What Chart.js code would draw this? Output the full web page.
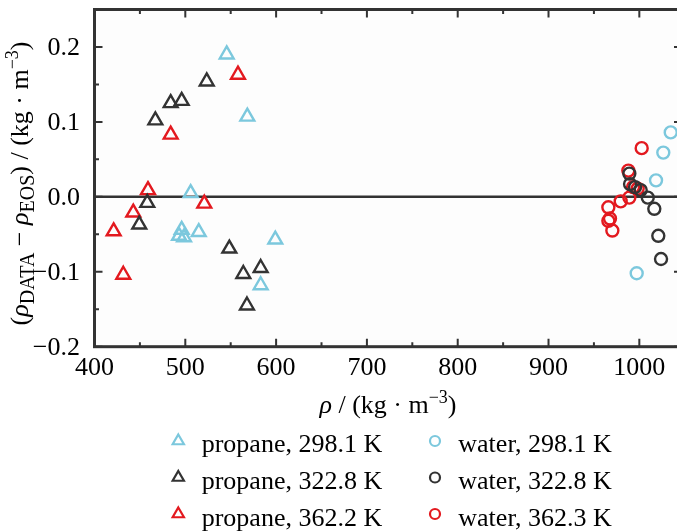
<!DOCTYPE html>
<html>
<head>
<meta charset="utf-8">
<script src="https://cdn.jsdelivr.net/npm/chart.js@4.4.1/dist/chart.umd.min.js"></script>
<style>
html, body { margin: 0; padding: 0; background: #fff; overflow: hidden; }
#wrap { width: 677px; height: 531px; overflow: hidden; position: relative; }
#mycanvas { display: block; }
</style>
</head>
<body>
<div id="wrap"><canvas id="mycanvas" width="684" height="531"></canvas></div>
<script>
// density rho (kg/m3) and deviation rho_DATA - rho_EOS (kg/m3)
var propane298Rho = [545.6, 568.3, 505.9, 496.0, 493.1, 498.6, 514.8, 599.1, 583.0];
var propane298Dev = [0.190, 0.107, 0.005, -0.044, -0.052, -0.054, -0.047, -0.057, -0.118];

var propane323Rho = [523.6, 483.9, 496.0, 467.0, 458.1, 449.3, 548.5, 563.9, 583.0, 567.9];
var propane323Dev = [0.154, 0.125, 0.128, 0.102, -0.008, -0.037, -0.069, -0.103, -0.095, -0.145];

var propane362Rho = [558.0, 483.9, 458.9, 442.7, 520.9, 421.1, 431.7];
var propane362Dev = [0.163, 0.083, 0.009, -0.021, -0.009, -0.046, -0.104];

var water298Rho = [1034.6, 1026.4, 1018.4, 997.1];
var water298Dev = [0.086, 0.059, 0.022, -0.102];

var water323Rho = [989.0, 989.8, 995.3, 1001.5, 1009.3, 1016.5, 1020.9, 1023.9];
var water323Dev = [0.031, 0.017, 0.013, 0.009, -0.001, -0.016, -0.052, -0.083];

var water362Rho = [1002.6, 987.9, 993.1, 998.2, 989.0, 979.5, 965.9, 967.7, 965.9, 970.3];
var water362Dev = [0.065, 0.035, 0.013, 0.011, -0.001, -0.006, -0.014, -0.029, -0.032, -0.045];

var seriesLabels = ['propane, 298.1 K', 'propane, 322.8 K', 'propane, 362.2 K',
                    'water, 298.1 K', 'water, 322.8 K', 'water, 362.3 K'];

var xTicks = [400, 450, 500, 550, 600, 650, 700, 750, 800, 850, 900, 950, 1000];
var yTicks = [-0.2, -0.15, -0.1, -0.05, 0, 0.05, 0.1, 0.15, 0.2];

var BLUE = '#7cc8dd', DARK = '#333333', RED = '#e3191f';
var FONT = 'Liberation Serif, Times New Roman, serif';

function pts(xs, ys) {
	var out = [];
	for (var i = 0; i < xs.length; i++) out.push({x: xs[i], y: ys[i]});
	return out;
}

function mk(label, data, color, style) {
	return {
		label: label,
		data: data,
		showLine: false,
		pointStyle: style,
		pointRadius: style == 'triangle' ? 8 : 6,
		pointBorderWidth: 2.4,
		pointBorderColor: color,
		pointBackgroundColor: 'rgba(0,0,0,0)',
		borderColor: color,
		backgroundColor: 'rgba(0,0,0,0)'
	};
}

function isMajor(v, step) {
	return Math.abs(v / step - Math.round(v / step)) < 1e-6;
}

function drawMarker(ctx, style, x, y, r) {
	ctx.beginPath();
	if (style == 'triangle') {
		ctx.moveTo(x, y - r);
		ctx.lineTo(x + r * Math.sin(2 * Math.PI / 3), y - r * Math.cos(2 * Math.PI / 3));
		ctx.lineTo(x + r * Math.sin(4 * Math.PI / 3), y - r * Math.cos(4 * Math.PI / 3));
		ctx.closePath();
	} else {
		ctx.arc(x, y, r, 0, Math.PI * 2);
	}
	ctx.stroke();
}

// a row of text pieces with sub/superscripts
function richText(ctx, parts, x, y, center) {
	var total = 0;
	parts.forEach(function(p) { ctx.font = p.f; total += ctx.measureText(p.t).width; });
	var cx = center ? x - total / 2 : x;
	parts.forEach(function(p) {
		ctx.font = p.f;
		ctx.fillText(p.t, cx, y + (p.dy || 0));
		cx += ctx.measureText(p.t).width;
	});
}

var frame = {
	id: 'frame',
	beforeDraw: function(chart) {
		var ctx = chart.ctx, a = chart.chartArea;
		ctx.save();
		ctx.fillStyle = '#fdfdfd';
		ctx.fillRect(a.left, a.top, a.right - a.left, a.bottom - a.top);
		ctx.restore();
	},
	beforeDatasetsDraw: function(chart) {
		var ctx = chart.ctx, a = chart.chartArea;
		var y0 = chart.scales.y.getPixelForValue(0);
		ctx.save();
		ctx.strokeStyle = DARK;
		ctx.lineWidth = 2.5;
		ctx.beginPath();
		ctx.moveTo(a.left, y0);
		ctx.lineTo(a.right, y0);
		ctx.stroke();
		ctx.restore();
	},
	afterDatasetsDraw: function(chart) {
		var ctx = chart.ctx, a = chart.chartArea;
		var xs = chart.scales.x, ys = chart.scales.y;
		var big = '26px ' + FONT;
		ctx.save();
		ctx.strokeStyle = DARK;
		ctx.fillStyle = '#000';
		ctx.lineWidth = 2;
		ctx.font = big;
		ctx.textAlign = 'center';
		ctx.textBaseline = 'alphabetic';
		xTicks.forEach(function(v) {
			var px = xs.getPixelForValue(v);
			var major = isMajor(v, 100);
			var len = major ? 8 : 4.5;
			ctx.beginPath();
			ctx.moveTo(px, a.bottom); ctx.lineTo(px, a.bottom - len);
			ctx.moveTo(px, a.top); ctx.lineTo(px, a.top + len);
			ctx.stroke();
			if (major) ctx.fillText(String(v), px, 375);
		});
		ctx.textAlign = 'right';
		yTicks.forEach(function(v) {
			var py = ys.getPixelForValue(v);
			var major = isMajor(v, 0.1);
			var len = major ? 8 : 4.5;
			ctx.beginPath();
			ctx.moveTo(a.left, py); ctx.lineTo(a.left + len, py);
			ctx.moveTo(a.right, py); ctx.lineTo(a.right - len, py);
			ctx.stroke();
			if (major) ctx.fillText(v.toFixed(1).replace('-', '\u2212'), 80, py + 8.5);
		});
		ctx.lineWidth = 3;
		ctx.strokeRect(a.left, a.top, a.right - a.left, a.bottom - a.top);
		ctx.restore();
	},
	afterDraw: function(chart) {
		var ctx = chart.ctx;
		var big = '26px ' + FONT, ital = 'italic 26px ' + FONT;
		var small = '18px ' + FONT, sub = '20px ' + FONT;
		ctx.save();
		ctx.fillStyle = '#000';
		ctx.textAlign = 'left';
		ctx.textBaseline = 'alphabetic';

		// x axis title
		richText(ctx, [
			{t: '\u03c1', f: ital},
			{t: ' / (kg \u00b7 m', f: big},
			{t: '\u22123', f: small, dy: -10},
			{t: ')', f: big}
		], 388, 413, true);

		// y axis title
		ctx.save();
		ctx.translate(28, 183.5);
		ctx.rotate(-Math.PI / 2);
		richText(ctx, [
			{t: '(', f: big},
			{t: '\u03c1', f: ital},
			{t: 'DATA', f: sub, dy: 6},
			{t: ' \u2212 ', f: big},
			{t: '\u03c1', f: ital},
			{t: 'EOS', f: sub, dy: 6},
			{t: ') / (kg \u00b7 m', f: big},
			{t: '\u22123', f: small, dy: -10},
			{t: ')', f: big}
		], 0, 0, true);
		ctx.restore();

		// legend, two columns
		var markX = [178.3, 435], textX = [201.7, 458.3];
		var markY = [441, 477.5, 514], baseY = [452, 489, 526];
		chart.data.datasets.forEach(function(ds, i) {
			var col = Math.floor(i / 3), row = i % 3;
			ctx.strokeStyle = ds.pointBorderColor;
			ctx.lineWidth = 2.2;
			drawMarker(ctx, ds.pointStyle, markX[col], markY[row], ds.pointStyle == 'triangle' ? 6.5 : 5);
			ctx.font = big;
			ctx.fillText(ds.label, textX[col], baseY[row]);
		});
		ctx.restore();
	}
};

var ctx = document.getElementById('mycanvas');

var chart = new Chart(ctx, {
	type: 'scatter',
	data: {
		datasets: [
			mk(seriesLabels[0], pts(propane298Rho, propane298Dev), BLUE, 'triangle'),
			mk(seriesLabels[1], pts(propane323Rho, propane323Dev), DARK, 'triangle'),
			mk(seriesLabels[2], pts(propane362Rho, propane362Dev), RED, 'triangle'),
			mk(seriesLabels[3], pts(water298Rho, water298Dev), BLUE, 'circle'),
			mk(seriesLabels[4], pts(water323Rho, water323Dev), DARK, 'circle'),
			mk(seriesLabels[5], pts(water362Rho, water362Dev), RED, 'circle')
		]
	},
	options: {
		responsive: false,
		animation: false,
		events: [],
		layout: { autoPadding: false, padding: { top: 9.5, right: 2, left: 0, bottom: 0 } },
		plugins: {
			legend: { display: false },
			tooltip: { enabled: false }
		},
		scales: {
			x: {
				type: 'linear',
				bounds: 'data',
				min: 400,
				max: 1047,
				grid: { display: false, drawTicks: false },
				border: { display: false },
				afterBuildTicks: function(s) { s.ticks = xTicks.map(function(v) { return {value: v}; }); },
				afterFit: function(s) { s.height = 184.3; },
				ticks: { display: false }
			},
			y: {
				type: 'linear',
				bounds: 'data',
				min: -0.2,
				max: 0.25,
				grid: { display: false, drawTicks: false },
				border: { display: false },
				afterBuildTicks: function(s) { s.ticks = yTicks.map(function(v) { return {value: v}; }); },
				afterFit: function(s) { s.width = 94.5; },
				ticks: { display: false }
			}
		}
	},
	plugins: [frame]
});
</script>
</body>
</html>
